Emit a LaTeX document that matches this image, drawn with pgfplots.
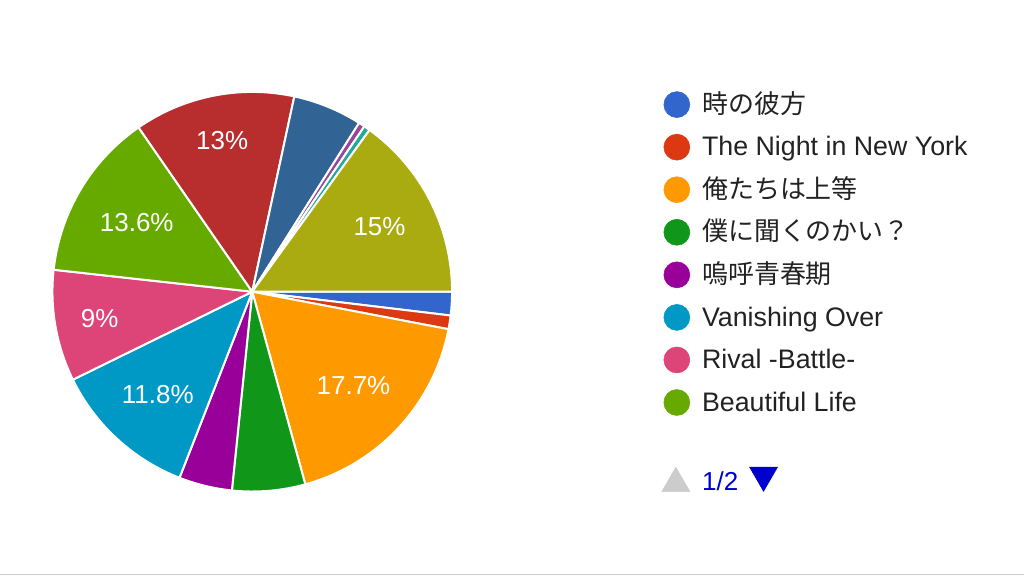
\documentclass[border=0pt]{standalone}
\usepackage{fontspec}
\setmainfont{Liberation Sans}
\newfontfamily\cjk{Noto Sans CJK JP}
\usepackage{pgfplots}
\usepackage{pgfplotstable}
\pgfplotsset{compat=1.18}
\pgfkeys{/pgf/number format/assume math mode=true}

\definecolor{c1}{HTML}{3366CC}
\definecolor{c2}{HTML}{DC3912}
\definecolor{c3}{HTML}{FF9900}
\definecolor{c4}{HTML}{109618}
\definecolor{c5}{HTML}{990099}
\definecolor{c6}{HTML}{0099C6}
\definecolor{c7}{HTML}{DD4477}
\definecolor{c8}{HTML}{66AA00}
\definecolor{c9}{HTML}{B82E2E}
\definecolor{c10}{HTML}{316395}
\definecolor{c11}{HTML}{994499}
\definecolor{c12}{HTML}{22AA99}
\definecolor{c13}{HTML}{AAAA11}
\definecolor{txt}{HTML}{222222}
\definecolor{navgray}{HTML}{CCCCCC}
\definecolor{navblue}{HTML}{0000CC}

% slice values (percent), colour, label distance from centre (px, 0 = no label)
\pgfplotstableread{
value col lr
1.9  c1  0
1.1  c2  0
17.7 c3  137.9
5.9  c4  0
4.3  c5  0
11.8 c6  139.7
9.0  c7  155
13.6 c8  134.6
13.0 c9  154.5
5.6  c10 0
0.5  c11 0
0.5  c12 0
15.0 c13 143
}\pietable

\newcommand\lfont{\fontsize{19.5}{23}\selectfont}
\newcommand\gfont{\fontsize{20.1}{23}\selectfont}

\newcommand\drawpie{%
  \pgfplotstablegetrowsof{\pietable}%
  \pgfmathtruncatemacro\nrows{\pgfplotsretval-1}%
  \gdef\piesum{0}%
  \foreach \i in {0,...,\nrows}{%
    \pgfplotstablegetelem{\i}{value}\of{\pietable}%
    \pgfmathsetmacro\tmp{\piesum+\pgfplotsretval}\xdef\piesum{\tmp}}%
  \gdef\piecum{0}%
  \foreach \i in {0,...,\nrows}{%
    \pgfplotstablegetelem{\i}{value}\of{\pietable}\let\val\pgfplotsretval
    \pgfplotstablegetelem{\i}{col}\of{\pietable}\let\col\pgfplotsretval
    \pgfplotstablegetelem{\i}{lr}\of{\pietable}\let\lr\pgfplotsretval
    \pgfmathsetmacro\aa{-\piecum/\piesum*360}%
    \pgfmathsetmacro\bb{-(\piecum+\val)/\piesum*360}%
    \pgfmathsetmacro\mm{(\aa+\bb)/2}%
    \fill[fill=\col, draw=white, line width=1.5pt, line join=round]
      (axis cs:252,284) -- ++(\aa:150pt) arc[start angle=\aa, end angle=\bb, radius=150pt] -- cycle;
    \pgfmathsetmacro\lrpt{\lr*0.75}%
    \pgfmathtruncatemacro\haslbl{\lr>0 ? 1 : 0}%
    \ifnum\haslbl=1
      \path (axis cs:252,284) ++(\mm:\lrpt pt) node[text=white, font=\lfont, inner sep=0pt] {\pgfmathprintnumber{\val}\%};
    \fi
    \pgfmathsetmacro\tmp{\piecum+\val}\xdef\piecum{\tmp}}%
}

\begin{document}
\begin{tikzpicture}
\begin{axis}[
  at={(0,0)}, anchor=south west,
  x=0.75pt, y=0.75pt,
  xmin=0, xmax=1024, ymin=0, ymax=576,
  hide axis, clip=false,
]
\pgfplotsextra{\drawpie}

% legend markers
\addplot[only marks, mark=*, mark size=9.75pt, color=c1]  coordinates {(677,471.3)};
\addplot[only marks, mark=*, mark size=9.75pt, color=c2]  coordinates {(677,428.7)};
\addplot[only marks, mark=*, mark size=9.75pt, color=c3]  coordinates {(677,386.1)};
\addplot[only marks, mark=*, mark size=9.75pt, color=c4]  coordinates {(677,343.5)};
\addplot[only marks, mark=*, mark size=9.75pt, color=c5]  coordinates {(677,300.9)};
\addplot[only marks, mark=*, mark size=9.75pt, color=c6]  coordinates {(677,258.3)};
\addplot[only marks, mark=*, mark size=9.75pt, color=c7]  coordinates {(677,215.7)};
\addplot[only marks, mark=*, mark size=9.75pt, color=c8]  coordinates {(677,173.1)};

\node[anchor=base west, inner sep=0pt, font=\lfont\cjk, text=txt] at (axis cs:702,462.6) {時の彼方};
\node[anchor=base west, inner sep=0pt, font=\gfont, text=txt] at (axis cs:702,420.0) {The Night in New York};
\node[anchor=base west, inner sep=0pt, font=\lfont\cjk, text=txt] at (axis cs:702,377.4) {俺たちは上等};
\node[anchor=base west, inner sep=0pt, font=\lfont\cjk, text=txt] at (axis cs:702,334.8) {僕に聞くのかい？};
\node[anchor=base west, inner sep=0pt, font=\lfont\cjk, text=txt] at (axis cs:702,292.2) {嗚呼青春期};
\node[anchor=base west, inner sep=0pt, font=\gfont, text=txt] at (axis cs:702,249.6) {Vanishing Over};
\node[anchor=base west, inner sep=0pt, font=\gfont, text=txt] at (axis cs:702,207.0) {Rival -Battle-};
\node[anchor=base west, inner sep=0pt, font=\gfont, text=txt] at (axis cs:702,164.4) {Beautiful Life};

% pagination
\addplot[only marks, mark=triangle*, mark size=12.15pt, color=navgray] coordinates {(676,92.1)};
\addplot[only marks, mark=triangle*, mark size=12.15pt, color=navblue, mark options={rotate=180}] coordinates {(763.8,100.4)};
\node[anchor=base west, inner sep=0pt, font=\lfont, text=navblue] at (axis cs:702,85) {1/2};

% bottom rule
\addplot[color=navgray, line width=0.75pt] coordinates {(0,1) (1024,1)};
\end{axis}
\path (0,0) rectangle (768pt,432pt);
\end{tikzpicture}
\end{document}
